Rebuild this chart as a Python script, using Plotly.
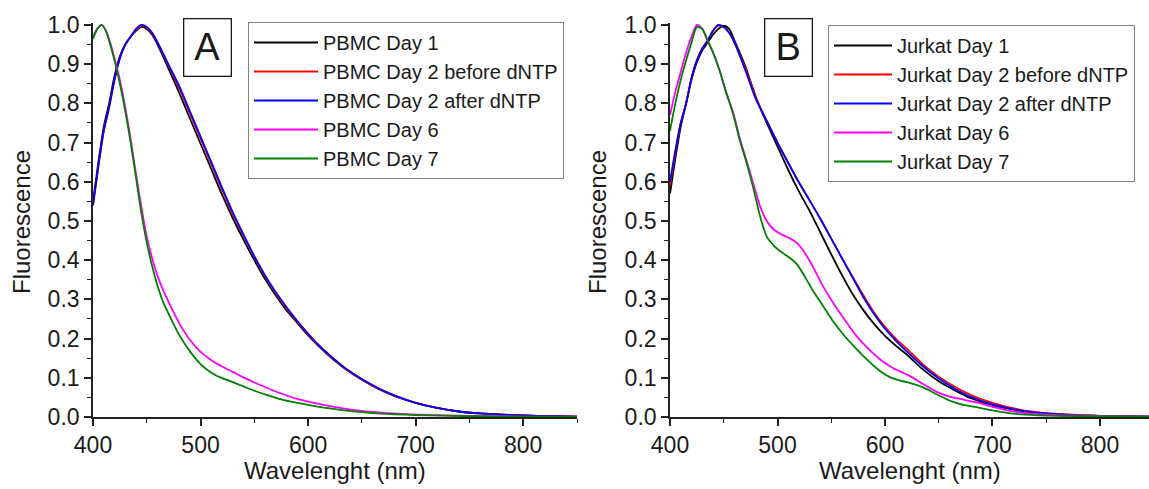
import plotly.graph_objects as go

# ---------------- Panel A (PBMC) ----------------
A_names = ["PBMC Day 1", "PBMC Day 2 before dNTP", "PBMC Day 2 after dNTP", "PBMC Day 6", "PBMC Day 7"]

A_wl_early = [400, 405, 410, 415, 420, 425, 430, 435, 440, 445, 450, 455, 460, 470, 480, 490, 500, 510, 520,
              530, 540, 550, 560, 570, 580, 590, 600, 610, 620, 635, 650, 665, 680, 700, 720, 740, 760, 780,
              800, 825, 850]
A_day1 = [0.55, 0.65, 0.74, 0.80, 0.87, 0.92, 0.95, 0.97, 0.985, 0.995, 0.99, 0.975, 0.95, 0.89, 0.828, 0.762,
          0.697, 0.632, 0.567, 0.507, 0.452, 0.40, 0.352, 0.31, 0.272, 0.24, 0.208, 0.18, 0.155, 0.122, 0.095,
          0.072, 0.054, 0.036, 0.023, 0.014, 0.009, 0.006, 0.004, 0.002, 0.001]
A_day2_before = [0.54, 0.64, 0.73, 0.79, 0.86, 0.915, 0.95, 0.97, 0.988, 0.998, 0.993, 0.978, 0.954, 0.897,
                 0.84, 0.775, 0.71, 0.645, 0.58, 0.517, 0.462, 0.408, 0.358, 0.315, 0.277, 0.243, 0.211,
                 0.182, 0.157, 0.123, 0.096, 0.073, 0.055, 0.036, 0.023, 0.014, 0.009, 0.006, 0.004, 0.002,
                 0.001]
A_day2_after = [0.54, 0.64, 0.73, 0.79, 0.86, 0.915, 0.95, 0.97, 0.99, 1.0, 0.995, 0.98, 0.956, 0.90, 0.845,
                0.78, 0.715, 0.65, 0.585, 0.522, 0.465, 0.41, 0.361, 0.318, 0.28, 0.245, 0.213, 0.183, 0.158,
                0.124, 0.097, 0.074, 0.055, 0.036, 0.023, 0.014, 0.009, 0.006, 0.004, 0.002, 0.001]

A_wl_late = [400, 404, 408, 412, 416, 420, 425, 430, 435, 440, 445, 450, 455, 460, 465, 470, 480, 490, 500,
             510, 520, 530, 540, 550, 562, 575, 590, 600, 620, 640, 660, 680, 700, 750, 800, 850]
A_day6 = [0.97, 0.99, 1.0, 0.985, 0.955, 0.915, 0.86, 0.79, 0.71, 0.62, 0.535, 0.46, 0.405, 0.36, 0.325,
          0.295, 0.24, 0.197, 0.166, 0.145, 0.129, 0.115, 0.101, 0.088, 0.074, 0.06, 0.046, 0.039, 0.028,
          0.019, 0.013, 0.009, 0.006, 0.003, 0.001, 0.0]
A_day7 = [0.965, 0.99, 1.0, 0.985, 0.95, 0.91, 0.85, 0.78, 0.70, 0.61, 0.52, 0.445, 0.385, 0.335, 0.295,
          0.265, 0.21, 0.168, 0.135, 0.113, 0.099, 0.089, 0.078, 0.067, 0.056, 0.045, 0.036, 0.031, 0.022,
          0.015, 0.01, 0.007, 0.005, 0.002, 0.001, 0.0]

# ---------------- Panel B (Jurkat) ----------------
B_names = ["Jurkat Day 1", "Jurkat Day 2 before dNTP", "Jurkat Day 2 after dNTP", "Jurkat Day 6", "Jurkat Day 7"]

B_wl_early = [400, 405, 410, 415, 420, 425, 430, 435, 440, 445, 450, 455, 460, 470, 480, 490, 500, 510, 520,
              530, 540, 550, 560, 570, 580, 590, 600, 610, 620, 635, 650, 665, 680, 700, 725, 750, 775, 800,
              846]
B_day1 = [0.57, 0.66, 0.74, 0.80, 0.86, 0.905, 0.935, 0.955, 0.975, 0.99, 0.998, 0.99, 0.96, 0.895, 0.815,
          0.75, 0.69, 0.63, 0.575, 0.525, 0.47, 0.415, 0.362, 0.313, 0.272, 0.237, 0.207, 0.182, 0.16, 0.122,
          0.091, 0.068, 0.048, 0.03, 0.016, 0.008, 0.005, 0.003, 0.001]
B_day2_before = [0.59, 0.675, 0.75, 0.80, 0.865, 0.91, 0.94, 0.96, 0.985, 0.998, 0.995, 0.98, 0.955, 0.89,
                 0.815, 0.755, 0.70, 0.648, 0.598, 0.552, 0.505, 0.455, 0.405, 0.357, 0.31, 0.266, 0.23,
                 0.2, 0.175, 0.135, 0.103, 0.077, 0.056, 0.036, 0.019, 0.01, 0.006, 0.003, 0.001]
B_day2_after = [0.60, 0.68, 0.75, 0.80, 0.865, 0.91, 0.94, 0.96, 0.985, 1.0, 0.995, 0.98, 0.955, 0.885,
                0.81, 0.755, 0.70, 0.648, 0.598, 0.552, 0.505, 0.455, 0.405, 0.355, 0.305, 0.262, 0.225, 0.195,
                0.168, 0.13, 0.098, 0.072, 0.051, 0.032, 0.017, 0.009, 0.005, 0.003, 0.001]

B_wl_late = [400, 405, 410, 415, 420, 425, 430, 435, 440, 446, 452, 459, 465, 470, 477, 484, 490, 497, 505,
             512, 518, 525, 533, 542, 552, 562, 574, 583, 595, 605, 615, 623, 635, 648, 660, 670, 685, 700,
             715, 730, 760, 800, 846]
B_day6 = [0.77, 0.83, 0.88, 0.93, 0.97, 1.0, 0.99, 0.96, 0.93, 0.885, 0.83, 0.775, 0.71, 0.665, 0.60, 0.536,
          0.50, 0.477, 0.464, 0.455, 0.444, 0.42, 0.383, 0.335, 0.29, 0.25, 0.205, 0.178, 0.148, 0.129, 0.115,
          0.105, 0.085, 0.064, 0.052, 0.046, 0.037, 0.026, 0.016, 0.01, 0.005, 0.003, 0.001]
B_day7 = [0.73, 0.80, 0.86, 0.91, 0.955, 0.995, 0.99, 0.96, 0.93, 0.885, 0.83, 0.77, 0.705, 0.66, 0.59, 0.51,
          0.46, 0.436, 0.418, 0.405, 0.39, 0.36, 0.322, 0.285, 0.243, 0.208, 0.172, 0.147, 0.118, 0.101, 0.092,
          0.087, 0.076, 0.058, 0.042, 0.033, 0.025, 0.017, 0.01, 0.006, 0.003, 0.002, 0.001]

colors = ["#000000", "#ff0000", "#0000ff", "#ff00ff", "#008000"]

A_series = [(A_wl_early, A_day1), (A_wl_early, A_day2_before), (A_wl_early, A_day2_after),
            (A_wl_late, A_day6), (A_wl_late, A_day7)]
B_series = [(B_wl_early, B_day1), (B_wl_early, B_day2_before), (B_wl_early, B_day2_after),
            (B_wl_late, B_day6), (B_wl_late, B_day7)]

W, H = 1149, 489
FONT = "Liberation Sans, Arial, sans-serif"
fig = go.Figure()

for (x, y), name, c in zip(A_series, A_names, colors):
    fig.add_trace(go.Scatter(x=x, y=y, mode="lines", name=name,
                             line=dict(color=c, width=1.8, shape="spline", smoothing=0.7),
                             xaxis="x", yaxis="y", legend="legend"))
for (x, y), name, c in zip(B_series, B_names, colors):
    fig.add_trace(go.Scatter(x=x, y=y, mode="lines", name=name,
                             line=dict(color=c, width=1.8, shape="spline", smoothing=0.7),
                             xaxis="x2", yaxis="y2", legend="legend2"))

tick_font = dict(family=FONT, size=23, color="#1a1a1a")
ydom = [72 / H, 466 / H]

def xaxis(domain, rng, anchor):
    return dict(domain=domain, range=rng, anchor=anchor, automargin=False, showgrid=False, zeroline=False,
                showline=True, linecolor="#222", linewidth=1.6, ticks="outside", ticklen=7, tickwidth=1.6,
                tickcolor="#222", dtick=100, tick0=400, tickfont=tick_font,
                minor=dict(ticks="outside", ticklen=4, tickwidth=1.3, tickcolor="#222", dtick=50, showgrid=False))

def yaxis(anchor):
    return dict(domain=ydom, range=[0, 1.005], anchor=anchor, automargin=False, showgrid=False, zeroline=False,
                showline=True, linecolor="#222", linewidth=1.6, ticks="outside", ticklen=7, tickwidth=1.6,
                tickcolor="#222", tickvals=[i / 10 for i in range(11)],
                ticktext=[f"{i / 10:.1f}" for i in range(11)], tickfont=tick_font,
                minor=dict(ticks="outside", ticklen=4, tickwidth=1.3, tickcolor="#222",
                           tickvals=[0.05 + i / 10 for i in range(10)], showgrid=False))

leg_font = dict(family=FONT, size=20, color="#1a1a1a")
title_font = dict(family=FONT, size=24, color="#1a1a1a")

fig.update_layout(
    width=W, height=H, margin=dict(l=0, r=0, t=0, b=0, autoexpand=False),
    paper_bgcolor="white", plot_bgcolor="white",
    xaxis=xaxis([93 / W, 577 / W], [400, 850], "y"),
    yaxis=yaxis("x"),
    xaxis2=xaxis([670 / W, 1.0], [400, 845.6], "y2"),
    yaxis2=yaxis("x2"),
    legend=dict(x=248 / W, y=1 - 22 / H, xanchor="left", yanchor="top", bgcolor="white",
                bordercolor="#808080", borderwidth=1, font=leg_font, itemwidth=64, tracegroupgap=0),
    legend2=dict(x=828 / W, y=1 - 25 / H, xanchor="left", yanchor="top", bgcolor="white",
                 bordercolor="#808080", borderwidth=1, font=leg_font, itemwidth=58, tracegroupgap=0),
    showlegend=True,
    annotations=[
        dict(text="A", x=207.5 / W, y=1 - 48 / H, xref="paper", yref="paper", showarrow=False,
             font=dict(family=FONT, size=38, color="#1a1a1a"),
             bordercolor="#1a1a1a", borderwidth=1.3, borderpad=3, width=40, height=50,
             xanchor="center", yanchor="middle", bgcolor="white"),
        dict(text="B", x=788 / W, y=1 - 48 / H, xref="paper", yref="paper", showarrow=False,
             font=dict(family=FONT, size=38, color="#1a1a1a"),
             bordercolor="#1a1a1a", borderwidth=1.3, borderpad=3, width=40, height=50,
             xanchor="center", yanchor="middle", bgcolor="white"),
        dict(text="Wavelenght (nm)", x=335 / W, y=1 - 470 / H, xref="paper", yref="paper", showarrow=False,
             font=title_font, xanchor="center", yanchor="middle"),
        dict(text="Wavelenght (nm)", x=910 / W, y=1 - 470 / H, xref="paper", yref="paper", showarrow=False,
             font=title_font, xanchor="center", yanchor="middle"),
        dict(text="Fluorescence", x=21 / W, y=1 - 222 / H, xref="paper", yref="paper", showarrow=False,
             font=title_font, textangle=-90, xanchor="center", yanchor="middle"),
        dict(text="Fluorescence", x=597 / W, y=1 - 222 / H, xref="paper", yref="paper", showarrow=False,
             font=title_font, textangle=-90, xanchor="center", yanchor="middle"),
    ],
)

fig.write_html("out.html", config={"displayModeBar": False},
               post_script="document.body.style.margin='0';document.body.style.padding='0';"
                           "document.body.style.overflow='hidden';")
